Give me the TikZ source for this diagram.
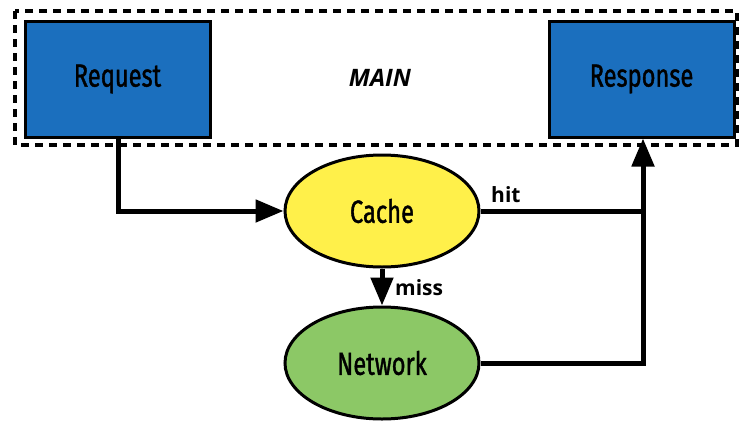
\documentclass[tikz,border=0pt]{standalone}
\usepackage{fontspec}
\usetikzlibrary{arrows.meta,shapes.geometric}
\newfontfamily\nodefont[FakeStretch=0.74,FakeBold=1.2]{Fira Sans}
\newfontfamily\labfont{Open Sans}
\definecolor{boxblue}{HTML}{1B6FBE}
\definecolor{cacheyellow}{HTML}{FFF04A}
\definecolor{netgreen}{HTML}{8CC866}
\tikzset{
  bluebox/.style={draw=black, line width=3pt, fill=boxblue, minimum width=185pt, minimum height=116pt, inner sep=0pt, font=\nodefont\fontsize{32}{34}\selectfont},
  ell/.style={ellipse, draw=black, line width=3pt, minimum width=194pt, minimum height=112pt, inner sep=0pt, font=\nodefont\fontsize{32}{34}\selectfont},
  conn/.style={line width=5pt},
  arr/.style={conn, -{Triangle[length=28pt,width=22pt]}},
  lab/.style={font=\labfont\bfseries\fontsize{21}{24}\selectfont, inner sep=0pt},
}
\begin{document}
\begin{tikzpicture}[x=1pt,y=-1pt]
\useasboundingbox (0,0) rectangle (739,421);
\draw[line width=3.5pt, dash pattern=on 8pt off 6pt] (15,11) rectangle (737,145);
\node[bluebox] (req) at (117.5,79) {Request};
\node[bluebox] (resp) at (641.5,79) {Response};
\node[font=\labfont\bfseries\itshape\fontsize{24}{26}\selectfont] (main) at (380,78) {MAIN};
\node[ell, fill=cacheyellow] (cache) at (382,211) {Cache};
\node[ell, fill=netgreen] (net) at (382,363) {Network};
\coordinate (j1) at (643,211);
\coordinate (j2) at (643,363);
\draw[arr] (req.south -| 118,0) |- (cache.west);
\draw[conn] (cache.east) -- (j1);
\draw[arr] (net.east) -- (j2) -- (resp.south -| j2);
\draw[arr] (cache.south) -- (net.north);
\node[lab, anchor=south west] (hit) at (491,203) {hit};
\node[lab, anchor=west] (miss) at (395,288) {miss};
\end{tikzpicture}
\end{document}
